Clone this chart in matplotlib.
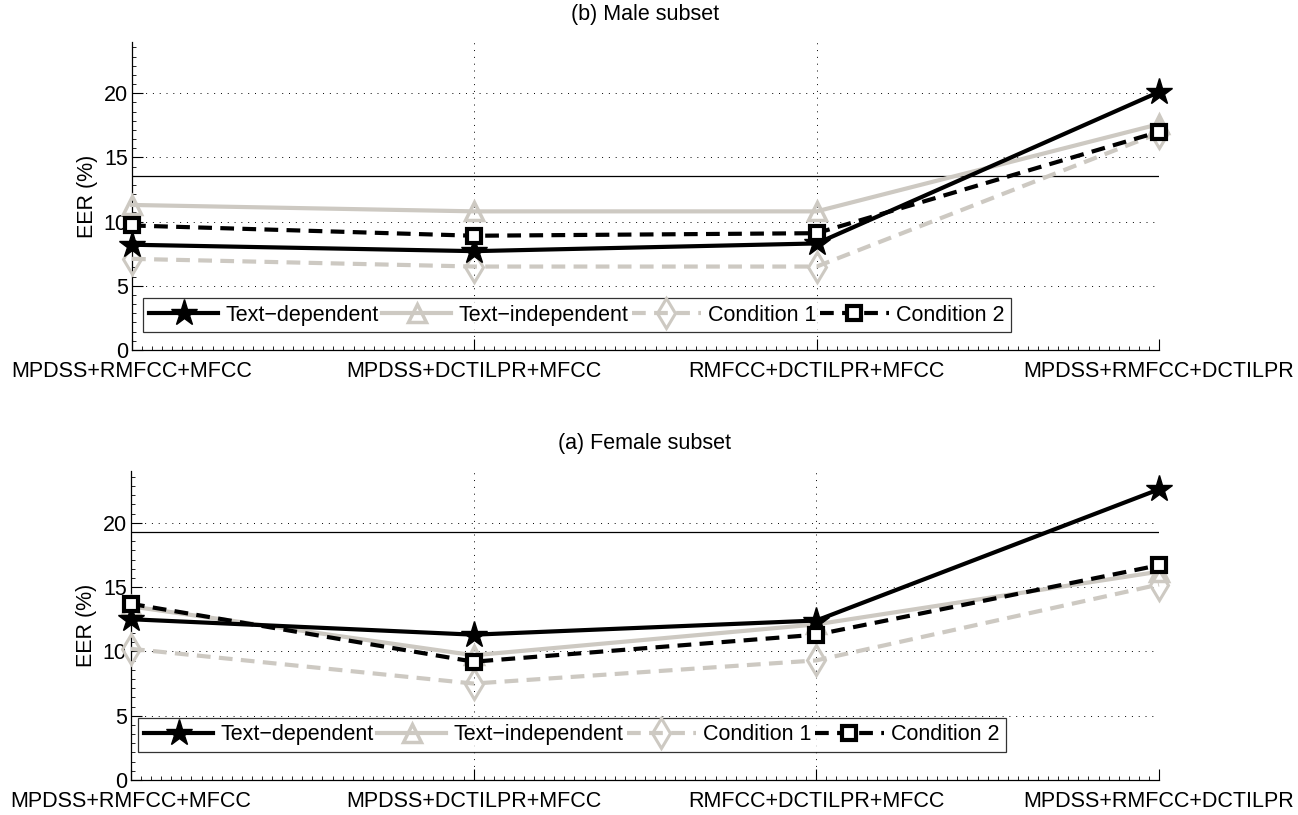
import numpy as np
import matplotlib.pyplot as plt
from matplotlib.ticker import AutoMinorLocator

plt.rcParams['font.family'] = ['Liberation Sans', 'DejaVu Sans']
plt.rcParams['font.size'] = 15.5

# data
features = ["MPDSS+RMFCC+MFCC", "MPDSS+DCTILPR+MFCC",
            "RMFCC+DCTILPR+MFCC", "MPDSS+RMFCC+DCTILPR"]
labels = ["Text\u2212dependent", "Text\u2212independent", "Condition 1", "Condition 2"]

male_td = [8.2, 7.7, 8.3, 20.1]
male_ti = [11.3, 10.8, 10.8, 17.6]
male_c1 = [7.1, 6.5, 6.5, 16.9]
male_c2 = [9.7, 8.9, 9.1, 17.0]
male_ref = 13.55

female_td = [12.5, 11.3, 12.4, 22.6]
female_ti = [13.5, 9.7, 12.1, 16.2]
female_c1 = [10.2, 7.5, 9.3, 15.2]
female_c2 = [13.7, 9.2, 11.3, 16.7]
female_ref = 19.25

gray = '#cdc9c2'
x = np.arange(1, len(features) + 1)

fig = plt.figure(figsize=(12.98, 8.15), dpi=100)
ax_top = fig.add_axes((0.1017, 0.5706, 0.7912, 0.3779))
ax_bot = fig.add_axes((0.1009, 0.0429, 0.7920, 0.3788))

dash = (0, (3.3, 2))


def draw(ax, td, ti, c1, c2, ref, title, leg_anchor):
    ax.plot(x, td, '-', color='black', lw=3, marker='*', ms=20,
            mfc='black', mec='black', label=labels[0], clip_on=False, zorder=4)
    ax.plot(x, ti, '-', color=gray, lw=3, marker='^', ms=13,
            mfc='none', mec=gray, mew=2.5, label=labels[1], clip_on=False, zorder=3)
    ax.plot(x, c1, color=gray, lw=3, ls=dash, marker='d', ms=15,
            mfc='none', mec=gray, mew=2.2, label=labels[2], clip_on=False, zorder=3)
    ax.plot(x, c2, color='black', lw=3, ls=dash, marker='s', ms=10,
            mfc='white', mec='black', mew=3, label=labels[3], clip_on=False, zorder=4)
    ax.axhline(ref, color='black', lw=0.9, zorder=1)

    ax.set_xlim(1, 4)
    ax.set_ylim(0, 24)
    ax.set_xticks(x)
    ax.set_xticklabels(features)
    ax.set_yticks([0, 5, 10, 15, 20])
    ax.yaxis.set_minor_locator(AutoMinorLocator(7))
    ax.xaxis.set_minor_locator(AutoMinorLocator(34))
    ax.tick_params(which='major', direction='in', length=8, width=0.8, pad=3)
    ax.tick_params(which='minor', direction='in', length=3, width=0.6)
    ax.tick_params(axis='x', pad=8)
    for s in ('top', 'right'):
        ax.spines[s].set_visible(False)
    ax.spines['left'].set_linewidth(0.9)
    ax.spines['bottom'].set_linewidth(0.9)
    ax.grid(True, which='major', color='black', ls=(0, (1, 6)), lw=0.7)
    ax.set_ylabel("EER (%)", labelpad=4)
    ax.set_title(title, pad=16, fontsize=15.5)

    leg = ax.legend(loc='lower left', bbox_to_anchor=leg_anchor, ncol=4,
                    frameon=True, fancybox=False, edgecolor='black',
                    handlelength=3.2, columnspacing=0.15, handletextpad=0.35,
                    borderaxespad=0, borderpad=0.3)
    leg.get_frame().set_linewidth(0.9)
    leg.set_zorder(5)


draw(ax_top, male_td, male_ti, male_c1, male_c2, male_ref,
     "(b) Male subset", (0.0107, 0.058))
draw(ax_bot, female_td, female_ti, female_c1, female_c2, female_ref,
     "(a) Female subset", (0.0068, 0.091))

fig.savefig("out.png", dpi=100)
